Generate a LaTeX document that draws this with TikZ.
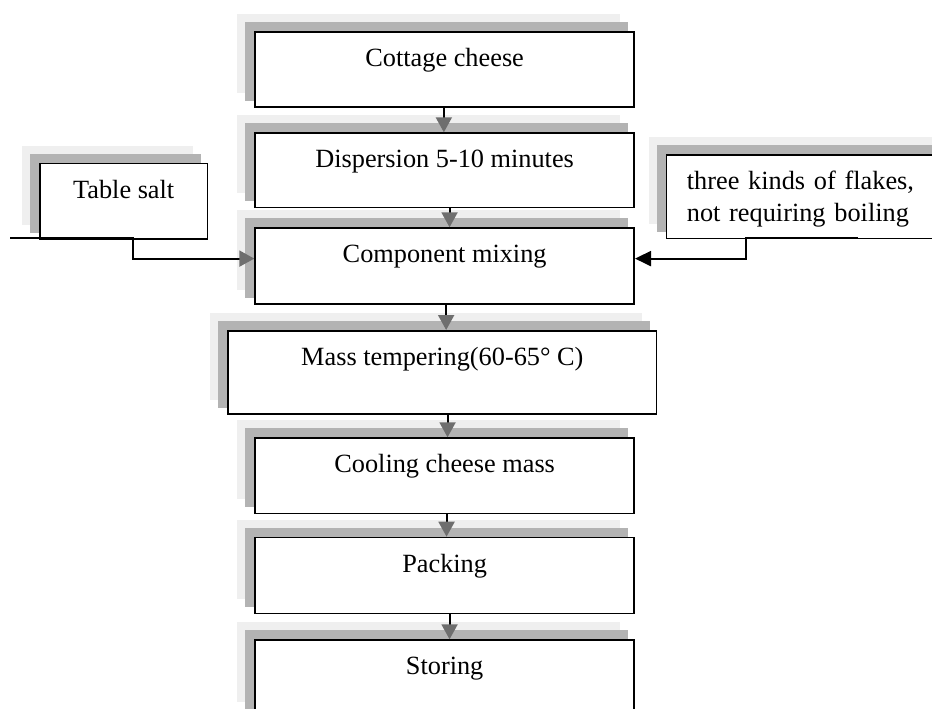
\documentclass[tikz,border=0pt]{standalone}
\usepackage{fontspec}
\setmainfont{Liberation Serif}
\usetikzlibrary{arrows.meta,backgrounds}
\definecolor{shlight}{HTML}{EFEFEF}
\definecolor{shdark}{HTML}{B3B3B3}
\definecolor{tipgray}{HTML}{6E6E6E}
\newcommand\boxshadow[1]{%
  \fill[shlight] ([shift={(-17,-17)}]#1.north west) rectangle ([shift={(-15,-15)}]#1.south east);
  \fill[shdark] ([shift={(-9,-9)}]#1.north west) rectangle ([shift={(-7,-7)}]#1.south east);}
\begin{document}
\begin{tikzpicture}[x=1pt,y=-1pt,
  box/.style={draw, fill=white, line width=1.7pt, inner sep=0pt, anchor=north west,
    text height=34.5pt, font=\fontsize{26.3}{31.7}\selectfont},
  flow/.style={line width=2pt, -{Triangle[length=15pt,width=16pt,color=tipgray]}},
  feed/.style={line width=2pt}]
\useasboundingbox (0,0) rectangle (932,709);
\clip (0,0) rectangle (932,709);

\node[box, minimum width=379pt, minimum height=75pt, text depth=40.5pt] (cottage) at (254.3,31) {Cottage cheese};
\node[box, minimum width=379pt, minimum height=74.4pt, text depth=39.9pt] (disp) at (254.3,132.3) {Dispersion 5-10 minutes};
\node[box, minimum width=379pt, minimum height=75.7pt, text depth=41.2pt] (comp) at (254.3,227.3) {Component mixing};
\node[box, minimum width=428.4pt, minimum height=83.3pt, text depth=48.8pt] (mass) at (227.3,330) {Mass tempering(60-65° C)};
\node[box, minimum width=379pt, minimum height=75.4pt, text depth=40.9pt] (cool) at (254.3,437.3) {Cooling cheese mass};
\node[box, minimum width=379pt, minimum height=76pt, text depth=41.5pt] (pack) at (254.3,536.7) {Packing};
\node[box, minimum width=379pt, minimum height=76pt, text depth=41.5pt] (stor) at (254.3,639.3) {Storing};
\node[box, minimum width=167.7pt, minimum height=75.6pt, text depth=41.1pt] (salt) at (39,162.7) {Table salt};
\node[box, inner xsep=20.3pt, text width=280pt, align=left, minimum height=83.4pt, text depth=48.9pt] (flakes) at (665.7,154.3) {three kinds of flakes,\\not requiring boiling};

\begin{pgfonlayer}{background}
  \boxshadow{cottage}
  \boxshadow{disp}
  \boxshadow{comp}
  \boxshadow{mass}
  \boxshadow{cool}
  \boxshadow{pack}
  \boxshadow{stor}
  \boxshadow{salt}
  \boxshadow{flakes}
\end{pgfonlayer}

\draw[flow] ([xshift=-0.8pt]cottage.south) -- ([xshift=-0.8pt]cottage.south |- disp.north);
\draw[flow] ([xshift=4.9pt]disp.south) -- ([xshift=4.9pt]disp.south |- comp.north);
\draw[flow] ([xshift=1.5pt]comp.south) -- ([xshift=1.5pt]comp.south |- mass.north);
\draw[flow] ([xshift=2.9pt]comp.south |- mass.south) -- ([xshift=2.9pt]cool.north);
\draw[flow] ([xshift=1.9pt]cool.south) -- ([xshift=1.9pt]cool.south |- pack.north);
\draw[flow] ([xshift=4.9pt]pack.south) -- ([xshift=4.9pt]pack.south |- stor.north);

\coordinate (saltin) at (10,238.3);
\draw[feed, -{Triangle[length=15pt,width=16pt,color=tipgray]}] (saltin) -- ++(123.3,0) |- ([yshift=7.4pt]comp.west);
\coordinate (flakesout) at (858,237.7);
\draw[feed, -{Triangle[length=16pt,width=15pt,color=black]}] (flakesout) -- ++(-112.3,0) |- ([yshift=7.4pt]comp.east);
\end{tikzpicture}
\end{document}
